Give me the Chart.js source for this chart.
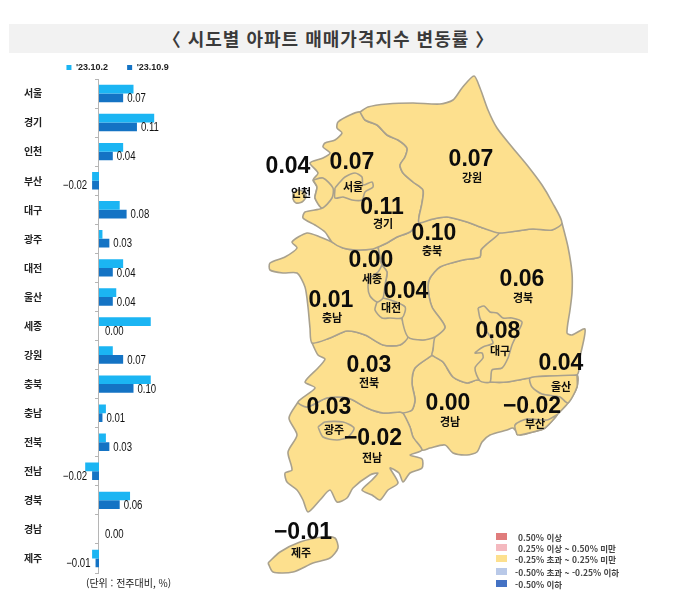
<!DOCTYPE html>
<html lang="ko"><head><meta charset="utf-8">
<script src="https://cdn.jsdelivr.net/npm/chart.js@4"></script>
<style>
html,body{margin:0;padding:0;background:#fff;width:696px;height:613px;overflow:hidden;font-family:"Noto Sans CJK KR","Noto Sans",sans-serif}
canvas{position:absolute;display:block}
#band{position:absolute;left:9px;top:24px;width:639px;height:29px;background:#f2f2f2;text-align:center;line-height:29px;font-size:18px;font-weight:700;color:#3a3a3a;letter-spacing:1px}
#unit{position:absolute;left:86px;top:576px;font-size:10px;line-height:14px;color:#222}
.k{position:absolute;left:496px;width:11px;height:7px}
.t{position:absolute;font-size:8.5px;line-height:12px;color:#444;white-space:nowrap;font-weight:700}
</style></head><body>
<div id="band">〈 시도별 아파트 매매가격지수 변동률 〉</div>
<canvas id="bars" width="248" height="560" style="left:0;top:32px;width:248px;height:560px"></canvas>
<canvas id="map" width="360" height="530" style="left:240px;top:60px;width:360px;height:530px"></canvas>
<div id="unit">(단위 : 전주대비, %)</div>
<div id="keys"></div>
<script>
const regions=['서울','경기','인천','부산','대구','광주','대전','울산','세종','강원','충북','충남','전북','전남','경북','경남','제주'];
const prevWeek=[0.10,0.16,0.07,-0.02,0.06,0.01,0.07,0.05,0.15,0.04,0.15,0.02,0.02,-0.04,0.09,0.00,-0.02];
const currWeek=[0.07,0.11,0.04,-0.02,0.08,0.03,0.04,0.04,0.00,0.07,0.10,0.01,0.03,-0.02,0.06,0.00,-0.01];
const seriesNames=["'23.10.2","'23.10.9"];
const keyLabels=['0.50% 이상','0.25% 이상 ~ 0.50% 미만','-0.25% 초과 ~ 0.25% 미만','-0.50% 초과 ~ -0.25% 이하','-0.50% 이하'];
const keyColors=['#e07c7c','#f4b9bf','#fde08e','#b9c9e8','#4472c4'];

/* map outline, shared borders */
const gwNorth=[[360,112],[368,107],[387,104],[413,103],[440,104],[453,100],[462,88],[474,76],[480,88],[488,110],[497,128],[512,147],[527,165],[542,185],[552,202],[562,223]];
const gwGb=[[562,223],[552,230],[533,229],[517,231],[499,233]];
const gwCb=[[499,233],[483,228],[467,222],[447,217],[433,219],[419,223]];
const ggGw=[[419,223],[419,217],[422,203],[423,190],[413,182],[403,173],[400,165],[405,157],[407,148],[398,140],[387,135],[377,125],[365,120],[360,112]];
const ggWest=[[360,112],[350,115],[338,122],[337,128],[342,133],[335,140],[325,143],[323,147],[330,153],[323,158],[310,163],[318,173],[313,180],[317,187],[315,198],[322,208],[305,212],[303,218],[315,225],[325,232],[332,242]];
const ggCn=[[332,242],[343,248],[357,250],[373,249],[378,247]];
const ggCb=[[378,247],[387,243],[397,237],[410,232],[419,223]];
const cbGb=[[499,233],[488,243],[481,250],[480,257],[463,260],[440,267],[430,278],[428,287],[432,307],[445,327],[435,337]];
const cbJb=[[435,337],[423,340],[408,337]];
const cbCn=[[378,247],[382,265],[387,272],[385,285],[383,298],[405,307],[402,318],[408,337]];
const cnJb=[[312,343],[330,338],[347,331],[365,335],[383,345],[400,345],[408,337]];
const cnCoast=[[332,242],[320,237],[307,233],[292,242],[297,248],[285,257],[270,263],[270,270],[283,273],[297,273],[305,287],[308,307],[310,328],[312,343]];
const jbGb=[[435,337],[433,350],[432,355]];
const jbGn=[[432,355],[415,368],[412,383],[415,400],[412,410],[403,413]];
const jbJn=[[298,402],[307,407],[327,398],[348,398],[367,408],[383,413],[400,412],[403,413]];
const jbCoast=[[298,402],[315,388],[305,382],[318,368],[325,359],[318,355],[312,343]];
const jnGn=[[403,413],[410,427],[413,437],[422,450]];
const jnCoast=[[422,450],[410,455],[422,459],[422,468],[410,473],[403,482],[399,473],[390,468],[398,483],[388,490],[380,500],[372,495],[362,490],[372,480],[378,473],[370,475],[353,488],[347,498],[337,502],[330,490],[320,500],[308,512],[303,500],[297,490],[287,482],[285,473],[292,470],[288,452],[297,435],[289,418],[298,402]];
const gnCoast=[[422,450],[430,448],[445,445],[453,453],[467,455],[477,452],[482,442],[490,435],[507,430],[513,428],[520,435],[533,432],[545,428],[557,415],[568,403],[577,387],[577,375]];
const gbGn=[[432,355],[443,362],[453,377],[467,383],[477,380],[490,382],[507,382],[530,378],[550,376],[577,375]];
const gbCoast=[[562,223],[568,247],[572,273],[572,293],[570,310],[567,333],[572,335],[585,329],[580,357],[577,375]];
const seoulLine=[[335,188],[340,182],[345,177],[355,173],[362,177],[363,185],[372,182],[373,187],[365,192],[362,200],[352,200],[343,197],[335,198],[335,188]];
const incheonLine=[[313,180],[323,178],[333,188],[332,198],[322,208],[315,198],[317,187],[313,180]];
const incheonIsle=[[293,193],[298,190],[304,192],[306,197],[302,202],[296,203],[293,199],[293,193]];
const sejongLine=[[382,265],[378,272],[370,278],[368,287],[370,296],[377,302],[383,298],[385,285],[387,272],[382,265]];
const daejeonLine=[[377,302],[383,298],[405,307],[402,318],[390,318],[382,318],[375,310],[377,302]];
const daeguLine=[[478,308],[484,306],[490,312],[497,313],[503,318],[512,318],[522,322],[518,332],[512,345],[508,358],[502,368],[492,370],[490,382],[480,381],[475,368],[483,358],[482,353],[475,353],[483,347],[493,343],[486,330],[480,318],[478,308]];
const gwangjuLine=[[318,427],[325,422],[343,422],[354,428],[348,437],[337,440],[323,437],[318,427]];
const ulsanLine=[[577,375],[550,376],[530,378],[532,387],[542,394],[560,397],[568,403],[577,387],[577,375]];
const busanLine=[[517,435],[515,425],[527,419],[547,420],[557,415],[545,428],[533,432],[520,435],[517,435]];
const jejuLine=[[268,563],[280,552],[300,542],[323,537],[335,538],[338,548],[330,558],[313,563],[293,572],[273,572],[268,563]];

const rev=a=>[...a].reverse();
const join=(...parts)=>{const out=[];parts.flat().forEach(p=>{const l=out[out.length-1];if(!l||l[0]!==p[0]||l[1]!==p[1])out.push(p)});return out.map(p=>({x:p[0],y:p[1]}))};
/* lower index draws on top */
const shapes=[seoulLine,incheonLine,incheonIsle,sejongLine,daejeonLine,daeguLine,gwangjuLine,ulsanLine,busanLine,jejuLine].map(s=>join(s)).concat([
 join(gwNorth,gwGb,gwCb,ggGw),
 join(ggGw,ggWest,ggCn,ggCb),
 join(ggCb,rev(gwCb),cbGb,cbJb,rev(cbCn)),
 join(gbCoast,rev(gbGn),rev(jbGb),rev(cbGb),rev(gwGb)),
 join(cnCoast,cnJb,rev(cbCn),rev(ggCn)),
 join(cnJb,rev(cbJb),jbGb,jbGn,rev(jbJn),jbCoast),
 join(jbJn,jnGn,jnCoast),
 join(jbGn,jnGn,gnCoast,rev(gbGn))
]);
const labelSpots={서울:[352,163,353,187],경기:[382,208,383,224],인천:[288,167,301,193],부산:[532,407,535,424],대구:[498,332,500,351],광주:[329,408,334,430],대전:[406,292,391,308],울산:[561,364,561,387],세종:[371,261,372,279],강원:[471,160,472,178],충북:[434,234,432,251],충남:[331,301,332,318],전북:[369,366,369,383],전남:[373,439,372,458],경북:[522,280,523,298],경남:[448,404,450,422],제주:[303,533,301,553]};
const fmt=v=>(v<0?'−':'')+Math.abs(v).toFixed(2);
Chart.defaults.animation=false;
Chart.defaults.devicePixelRatio=1;

const barLabels={id:'barLabels',
 afterLayout(c){c.legend.top+=3;c.legend.left+=25;c.legend.right+=25},
 afterDatasetsDraw(c){const m=c.getDatasetMeta(1),g=c.ctx;
  currWeek.forEach((v,i)=>{const e=m.data[i],neg=v<0;g.save();
   g.font='12px "Liberation Sans",sans-serif';g.fillStyle='#111';g.textBaseline='middle';g.textAlign=neg?'right':'left';
   g.translate(e.x+(neg?-5:v===0?6:4),e.y+1);g.scale(.8,1);g.fillText(fmt(v),0,0);g.restore()})}};
new Chart(document.getElementById('bars'),{type:'bar',plugins:[barLabels],
 data:{labels:regions,datasets:[
  {label:seriesNames[0],data:prevWeek,backgroundColor:'#1bb5f3'},
  {label:seriesNames[1],data:currWeek,backgroundColor:'#1473c4'}]},
 options:{indexAxis:'y',responsive:false,categoryPercentage:.6,barPercentage:1,
  layout:{padding:{left:0,right:62.75,top:9,bottom:19}},
  plugins:{tooltip:{enabled:false},
   legend:{position:'top',labels:{boxWidth:5,boxHeight:5,padding:19,color:'#222',font:{size:9,weight:'bold',family:'"Liberation Sans",sans-serif'}}}},
  scales:{
   x:{display:false,min:-0.16,max:0.25},
   y:{position:'left',afterFit(s){s.width=43.8},grid:{display:false,drawTicks:false},border:{display:false},
      ticks:{padding:1.5,color:'#222',font:{size:10,weight:'bold',family:'"Noto Sans CJK KR"'}}},
   yAxisLine:{type:'category',axis:'y',labels:regions,position:{x:0},offset:true,grid:{drawOnChartArea:false,tickLength:3,color:'#b5b5b5',offset:true},border:{color:'#b5b5b5'},ticks:{display:false}}}}});

const mapFill={id:'mapFill',
 beforeDatasetDraw(c,a){const g=c.ctx,l=a.meta.dataset;g.save();g.beginPath();l.path(g);g.closePath();g.fillStyle=keyColors[2];g.fill();g.restore()},
 afterDatasetsDraw(c){const g=c.ctx,X=c.scales.x,Y=c.scales.y;g.save();g.textAlign='center';g.textBaseline='middle';g.fillStyle='#0c0c0c';
  regions.forEach((r,i)=>{const s=labelSpots[r];
   g.font='bold 23px "Liberation Sans",sans-serif';g.fillText(fmt(currWeek[i]),X.getPixelForValue(s[0]),Y.getPixelForValue(s[1]));
   g.font='bold 11px "Noto Sans CJK KR"';g.fillText(r,X.getPixelForValue(s[2]),Y.getPixelForValue(s[3]))});
  g.restore()}};
new Chart(document.getElementById('map'),{type:'scatter',plugins:[mapFill],
 data:{datasets:shapes.map(d=>({data:d,showLine:true,pointRadius:0,tension:.25,borderColor:'#a9a18d',borderWidth:1.6,fill:false,clip:false}))},
 options:{responsive:false,layout:{padding:0},plugins:{legend:{display:false},tooltip:{enabled:false}},
  scales:{x:{display:false,min:240,max:600},y:{display:false,min:60,max:590,reverse:true}}}});

const keyTops=[533,544,555,568,580],keyLefts=[518,518,515,515,515];
const box=document.getElementById('keys');
keyLabels.forEach((t,i)=>{
 const k=document.createElement('div');k.className='k';k.style.top=keyTops[i]+'px';k.style.background=keyColors[i];box.appendChild(k);
 const d=document.createElement('div');d.className='t';d.style.left=keyLefts[i]+'px';d.style.top=(keyTops[i]-2.5)+'px';d.textContent=t;box.appendChild(d);
});
</script></body></html>
